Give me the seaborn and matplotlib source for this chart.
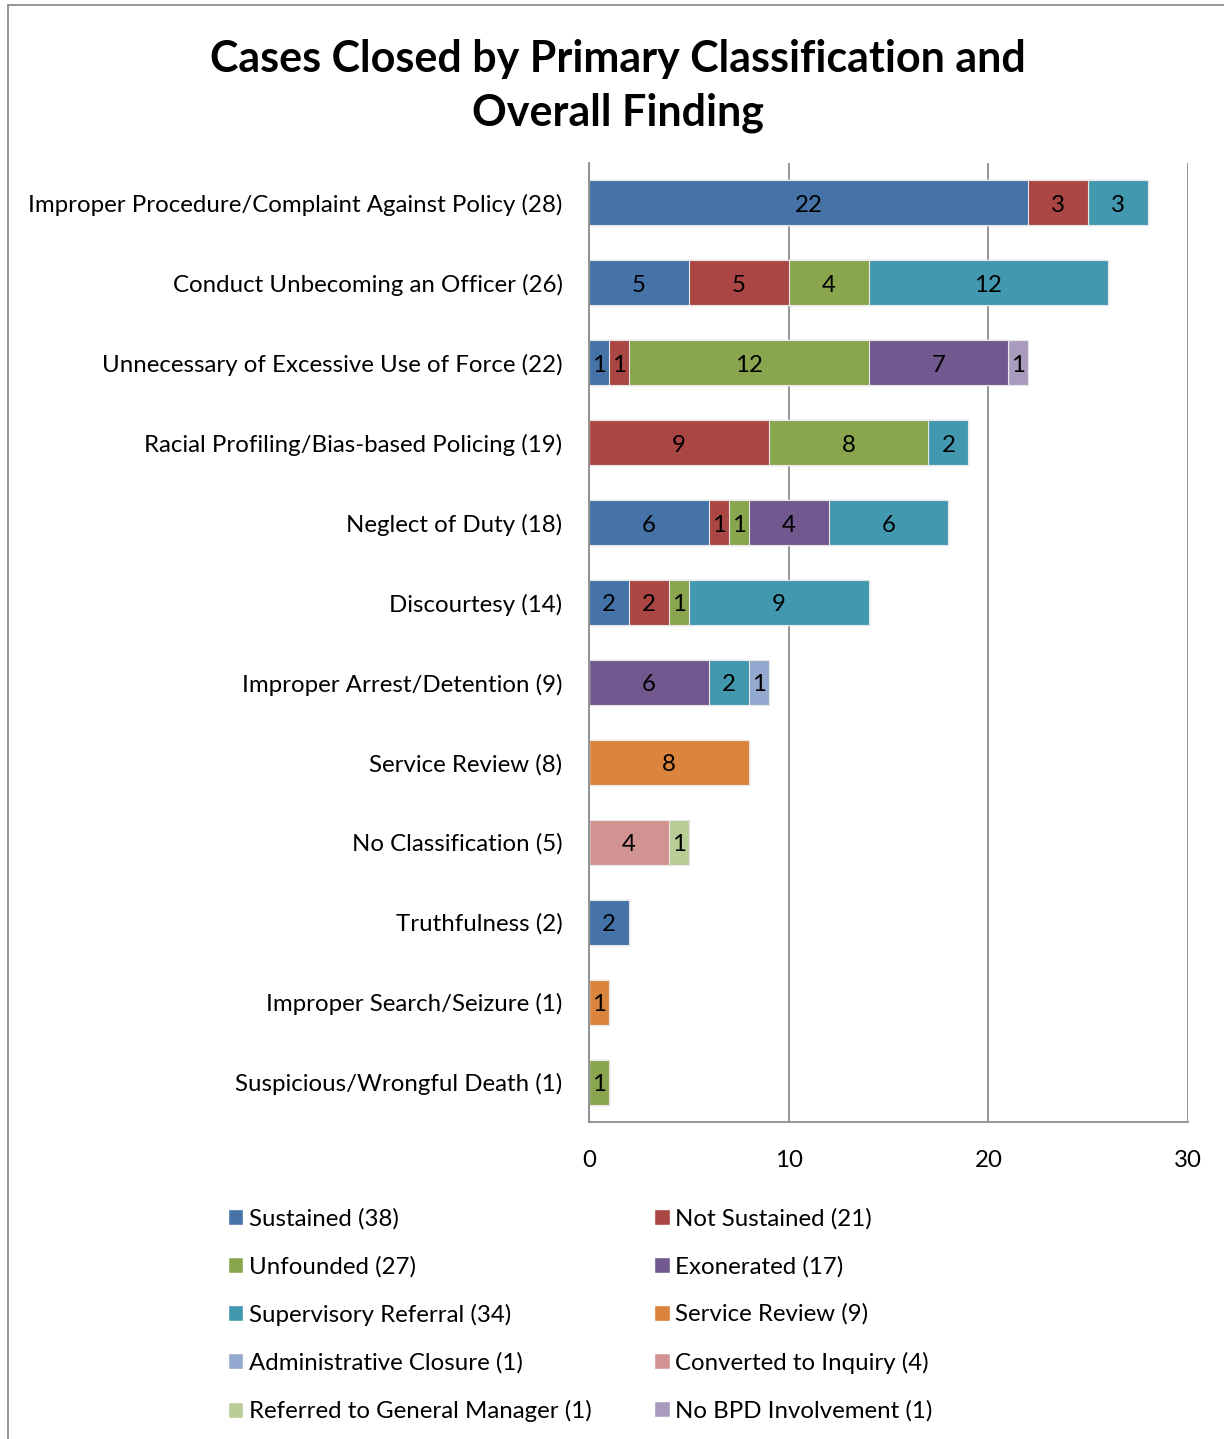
import numpy as np
import pandas as pd
import matplotlib
matplotlib.use("Agg")
import matplotlib.pyplot as plt
from matplotlib.patches import Rectangle, Patch
import seaborn as sns

# data
categories = [
    "Improper Procedure/Complaint Against Policy (28)",
    "Conduct Unbecoming an Officer (26)",
    "Unnecessary of Excessive Use of Force (22)",
    "Racial Profiling/Bias-based Policing (19)",
    "Neglect of Duty (18)",
    "Discourtesy (14)",
    "Improper Arrest/Detention (9)",
    "Service Review (8)",
    "No Classification (5)",
    "Truthfulness (2)",
    "Improper Search/Seizure (1)",
    "Suspicious/Wrongful Death (1)",
]
sustained = [22, 5, 1, 0, 6, 2, 0, 0, 0, 2, 0, 0]
not_sustained = [3, 5, 1, 9, 1, 2, 0, 0, 0, 0, 0, 0]
unfounded = [0, 4, 12, 8, 1, 1, 0, 0, 0, 0, 0, 1]
exonerated = [0, 0, 7, 0, 4, 0, 6, 0, 0, 0, 0, 0]
supervisory_referral = [3, 12, 0, 2, 6, 9, 2, 0, 0, 0, 0, 0]
service_review = [0, 0, 0, 0, 0, 0, 0, 8, 0, 0, 1, 0]
admin_closure = [0, 0, 0, 0, 0, 0, 1, 0, 0, 0, 0, 0]
converted_inquiry = [0, 0, 0, 0, 0, 0, 0, 0, 4, 0, 0, 0]
referred_gm = [0, 0, 0, 0, 0, 0, 0, 0, 1, 0, 0, 0]
no_bpd = [0, 0, 1, 0, 0, 0, 0, 0, 0, 0, 0, 0]

findings = [
    ("Sustained (38)", sustained, "#4572A7"),
    ("Not Sustained (21)", not_sustained, "#AA4643"),
    ("Unfounded (27)", unfounded, "#89A54E"),
    ("Exonerated (17)", exonerated, "#71588F"),
    ("Supervisory Referral (34)", supervisory_referral, "#4198AF"),
    ("Service Review (9)", service_review, "#DB843D"),
    ("Administrative Closure (1)", admin_closure, "#93A9CF"),
    ("Converted to Inquiry (4)", converted_inquiry, "#D19392"),
    ("Referred to General Manager (1)", referred_gm, "#B9CD96"),
    ("No BPD Involvement (1)", no_bpd, "#A99BBD"),
]

sns.set_style("white")
plt.rcParams["font.family"] = ["Lato", "DejaVu Sans"]
plt.rcParams["text.color"] = "black"
plt.rcParams["xtick.color"] = "black"
plt.rcParams["ytick.color"] = "black"

FS = 17.3

fig = plt.figure(figsize=(12.24, 14.39), dpi=100)
ax = fig.add_axes([589 / 1224, 1 - 1122 / 1439, (1188 - 589) / 1224, (1122 - 163) / 1439])

# stack by drawing cumulative totals, last series first
vals = np.array([f[1] for f in findings], dtype=float)
cum = np.cumsum(vals, axis=0)
for i in range(len(findings) - 1, -1, -1):
    df = pd.DataFrame({"cat": categories, "val": cum[i]})
    sns.barplot(data=df, x="val", y="cat", orient="h", color=findings[i][2],
                saturation=1, width=0.5625, edgecolor="#e8e8e8", linewidth=0.8, ax=ax)

# segment labels
for i in range(len(findings)):
    left = cum[i] - vals[i]
    for j, v in enumerate(vals[i]):
        if v > 0:
            ax.text(left[j] + v / 2, j + 0.03, f"{int(v)}", ha="center", va="center",
                    fontsize=FS, color="black")

ax.set_xlim(0, 30)
ax.set_ylim(len(categories) - 0.5, -0.5)
ax.set_xticks([0, 10, 20, 30])
ax.set_xlabel("")
ax.set_ylabel("")
ax.grid(axis="x", color="#8c8c8c", linewidth=1.3)
ax.set_axisbelow(True)
for s in ["top", "right"]:
    ax.spines[s].set_visible(False)
for s in ["left", "bottom"]:
    ax.spines[s].set_color("#8c8c8c")
    ax.spines[s].set_linewidth(1.3)
ax.tick_params(axis="x", length=0, pad=20, labelsize=FS)
ax.tick_params(axis="y", length=0, pad=19, labelsize=FS)

fig.text(0.505, 1 - 86 / 1439, "Cases Closed by Primary Classification and\nOverall Finding",
         ha="center", va="center", fontsize=31, fontweight="bold", linespacing=1.42)

# legend, row-major order in two columns
handles = [Patch(facecolor=f[2], label=f[0]) for f in findings]
order = [0, 2, 4, 6, 8, 1, 3, 5, 7, 9]
fig.legend([handles[k] for k in order], [findings[k][0] for k in order],
           ncol=2, loc="upper left", bbox_to_anchor=(206 / 1224, 1 - 1186 / 1439),
           frameon=False, fontsize=FS, handlelength=0.66, handleheight=0.66,
           handletextpad=0.22, labelspacing=1.10, columnspacing=2.6)

fig.patches.append(Rectangle((8 / 1224, -0.05), 1.2, 1.05 - 5 / 1439, transform=fig.transFigure,
                             fill=False, edgecolor="#8c8c8c", linewidth=1.3))

fig.savefig("out.png", dpi=100)
